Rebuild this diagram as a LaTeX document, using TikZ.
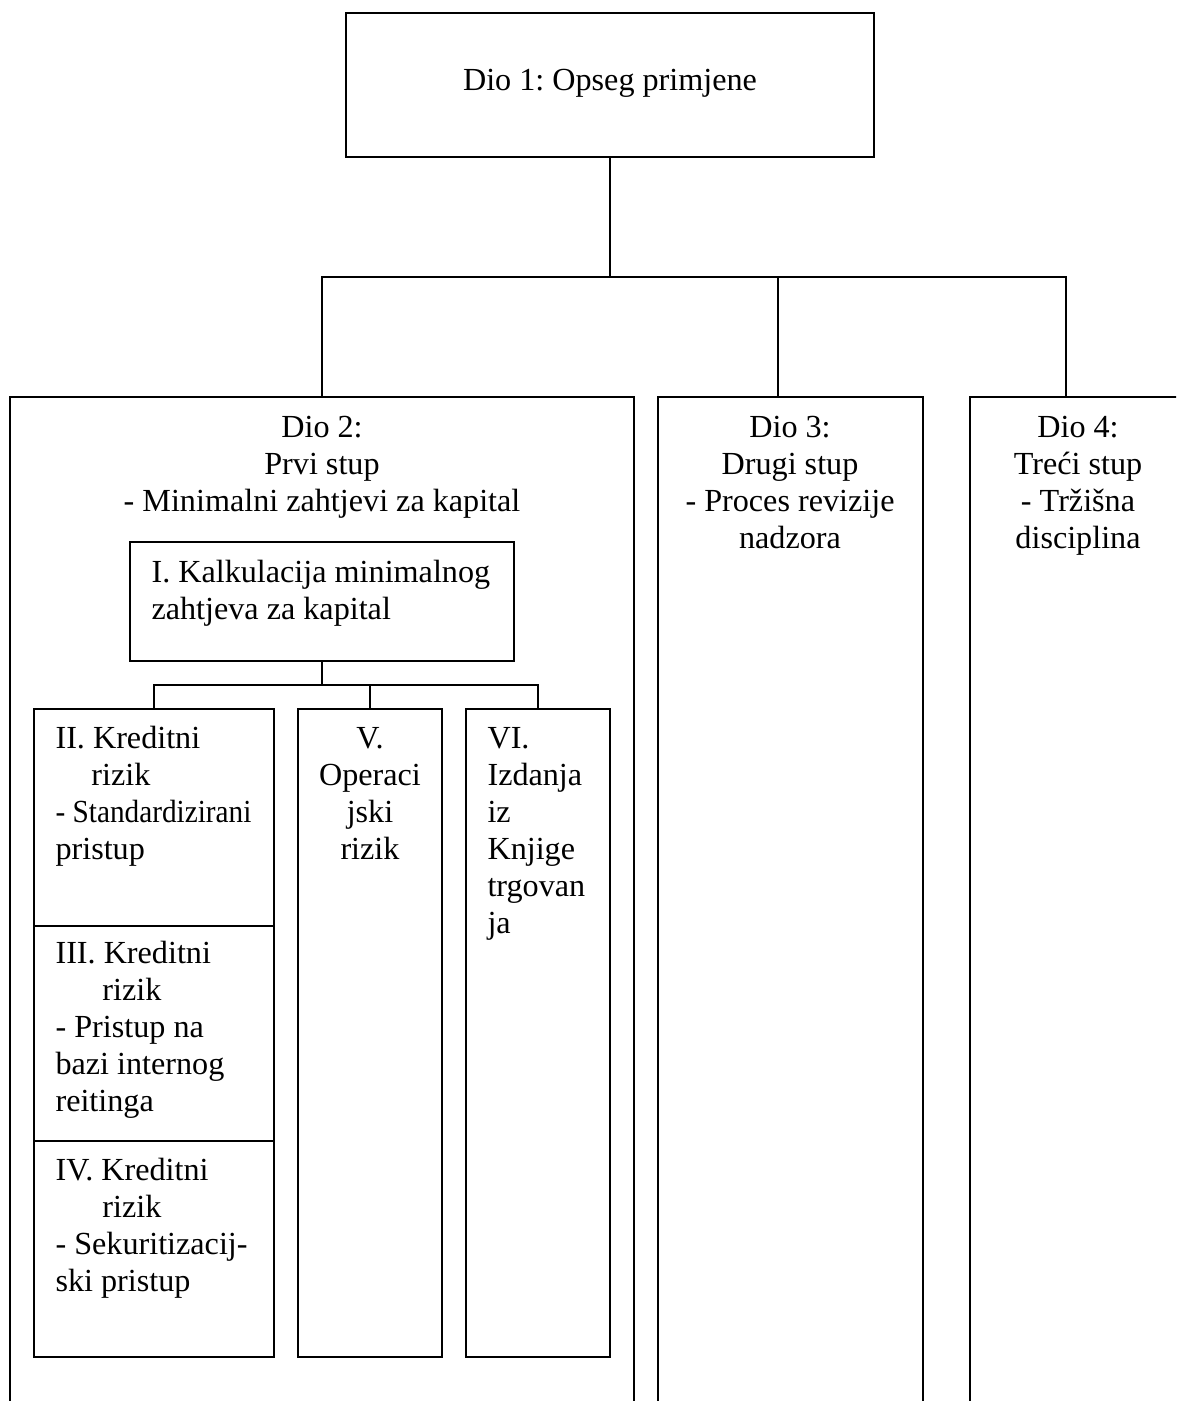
\documentclass[tikz,border=0pt]{standalone}
\usepackage{fontspec}
\setmainfont{Liberation Serif}
\usetikzlibrary{fit}
\frenchspacing
\begin{document}
\begin{tikzpicture}[x=0.373pt,y=-0.373pt,
  box/.style={draw, line width=0.5pt, inner sep=0pt},
  txt/.style={inner sep=0pt, font=\fontsize{12}{13.8}\selectfont},
  conn/.style={draw, line width=0.5pt}]
\useasboundingbox (0,0) rectangle (1176,1401);
\clip (0,0) rectangle (1176,1401);
% level 1
\node[box, fit={(346,13) (874,157)}] (top) {};
\node[txt, anchor=base] (toptxt) at (610,91) {Dio 1: Opseg primjene};
% level 2 boxes
\node[box, fit={(10,397) (634,1460)}] (d2) {};
\node[box, fit={(658,397) (923,1460)}] (d3) {};
\node[box, fit={(970,397) (1186,1460)}] (d4) {};
\node[txt, anchor=north, align=center] (d2txt) at (322,411) {\strut Dio 2:\\Prvi stup\\- Minimalni zahtjevi za kapital};
\node[txt, anchor=north, align=center] (d3txt) at (790,411) {\strut Dio 3:\\Drugi stup\\- Proces revizije\\nadzora};
\node[txt, anchor=north, align=center] (d4txt) at (1078,411) {\strut Dio 4:\\Treći stup\\- Tržišna\\disciplina};
% connectors level 1
\coordinate (j1) at (610,277);
\coordinate (d3t) at (778,397);
\coordinate (d4t) at (1066,397);
\draw[conn] (top.south) -- (j1);
\draw[conn] (d2.north) |- (j1) -| (d4t);
\draw[conn] (d3t) -- (d3t |- j1);
% inner boxes
\node[box, fit={(130,542) (514,661)}] (b1) {};
\node[txt, anchor=north west, align=left] (b1txt) at (151,556) {\strut I. Kalkulacija minimalnog\\zahtjeva za kapital};
\node[box, fit={(34,709) (274,926)}] (b2) {};
\node[box, fit={(34,926) (274,1141)}] (b3) {};
\node[box, fit={(34,1141) (274,1357)}] (b4) {};
\node[box, fit={(298,709) (442,1357)}] (b5) {};
\node[box, fit={(466,709) (610,1357)}] (b6) {};
\node[txt, anchor=north west, align=left] (b2txt) at (55,722) {\strut II. Kreditni\\\hspace*{13.4pt}rizik\\\scalebox{0.91}[1]{- Standardizirani}\\pristup};
\node[txt, anchor=north west, align=left] (b3txt) at (55,937) {\strut III. Kreditni\\\hspace*{17.5pt}rizik\\- Pristup na\\bazi internog\\reitinga};
\node[txt, anchor=north west, align=left] (b4txt) at (55,1154) {\strut IV. Kreditni\\\hspace*{17.5pt}rizik\\- Sekuritizacij-\\ski pristup};
\node[txt, anchor=north, align=center] (b5txt) at (370,722) {\strut V.\\Operaci\\jski\\rizik};
\node[txt, anchor=north west, align=left] (b6txt) at (487,722) {\strut VI.\\Izdanja\\iz\\Knjige\\trgovan\\ja};
% connectors level 2
\coordinate (j2) at (322,685);
\draw[conn] (b1.south) -- (j2);
\draw[conn] (b2.north) |- (j2) -| (b6.north);
\draw[conn] (b5.north) -- (b5.north |- j2);
\end{tikzpicture}
\end{document}
